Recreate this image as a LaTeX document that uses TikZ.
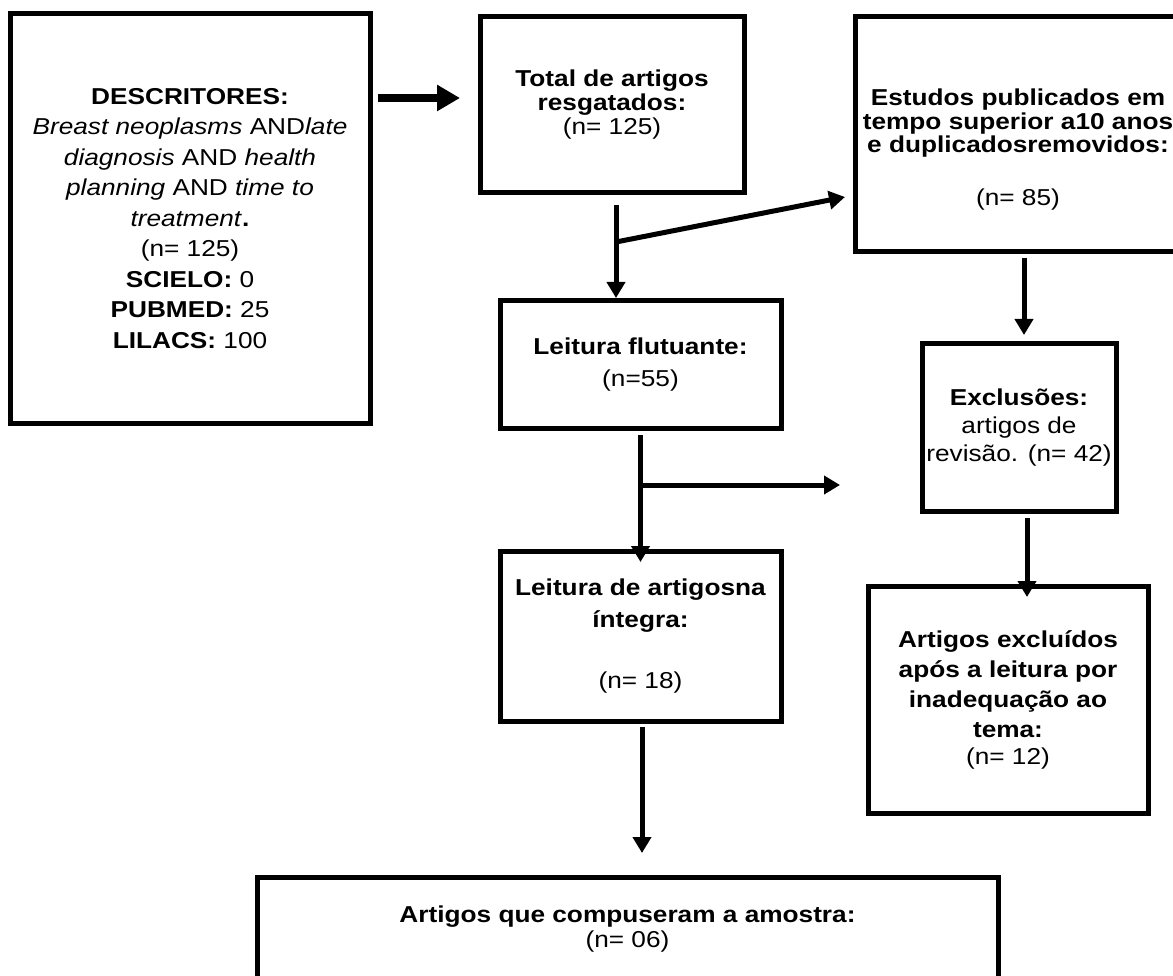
\documentclass[tikz,border=0pt]{standalone}
\usepackage{fontspec}
\setmainfont{Liberation Sans}[FakeStretch=1.14]
\usetikzlibrary{arrows.meta,calc}
\newcommand\boxfont[1]{\fontsize{23}{#1}\selectfont}
\begin{document}
\begin{tikzpicture}[x=1pt,y=-1pt,
    box/.style={draw,line width=5pt,align=center,inner sep=0pt,outer sep=0pt},
    arr/.style={line width=5pt,-{Triangle[length=16pt,width=18pt]}},
    bigarr/.style={line width=8pt,-{Triangle[length=23pt,width=25pt]}}]
    \useasboundingbox (0,0) rectangle (1173,976);
    \clip (0,0) rectangle (1173,976);
    % boxes
    \node[box,minimum width=360pt,minimum height=409pt,font=\boxfont{30.5}] (desc) at (190,218.5)
        {\textbf{DESCRITORES:}\\ \textit{Breast neoplasms} AND\textit{late}\\ \textit{diagnosis} AND \textit{health}\\
         \textit{planning} AND \textit{time to}\\ \textit{treatment}\textbf{.}\\ (n= 125)\\
         \textbf{SCIELO:} 0\\ \textbf{PUBMED:} 25\\ \textbf{LILACS:} 100};
    \node[box,minimum width=264pt,minimum height=176pt,font=\boxfont{24}] (total) at (612,105)
        {\textbf{Total de artigos}\\ \textbf{resgatados:}\\ (n= 125)};
    \node[box,minimum width=326pt,minimum height=235pt] (estudos) at (1018,134.5) {};
    \node[align=center,font=\boxfont{23.5}] (estudos-txt) at (1018,150)
        {\textbf{Estudos publicados em}\\ \textbf{tempo superior a10 anos}\\ \textbf{e duplicadosremovidos:}\\[29.5pt] (n= 85)};
    \node[box,minimum width=281pt,minimum height=127pt,font=\boxfont{32}] (flut) at (640.5,364.5)
        {\textbf{Leitura flutuante:}\\ (n=55)};
    \node[box,minimum width=194pt,minimum height=167pt,font=\boxfont{28}] (excl) at (1019,427.5)
        {\textbf{Exclusões:}\\ artigos de\\ revisão. (n= 42)};
    \node[box,minimum width=281pt,minimum height=170pt,font=\boxfont{32}] (integra) at (640.5,636)
        {\textbf{Leitura de artigosna}\\ \textbf{íntegra:}\\[29pt] (n= 18)};
    \node[box,minimum width=280pt,minimum height=227pt,font=\boxfont{30}] (artex) at (1008,699.5)
        {\textbf{Artigos excluídos}\\ \textbf{após a leitura por}\\ \textbf{inadequação ao}\\ \textbf{tema:}\\[-3pt] (n= 12)};
    \node[box,minimum width=741pt,minimum height=105pt,font=\boxfont{25}] (amostra) at (627.5,929.5)
        {\textbf{Artigos que compuseram a amostra:}\\ (n= 06)};
    % arrows
    \draw[bigarr] ([shift={(8,84)}]desc.north east) -- ([shift={(-20,81)}]total.north west);
    \draw[arr] ($(total.south)+(4,12)$) -- ($(total.south |- flut.north)+(4,-3)$);
    \coordinate (jb) at ($(total.south)+(4,49)$);
    \draw[arr] (jb) -- ($(estudos.north west)+(-10,180)$);
    \draw[arr] ($(estudos.south)+(6,6)$) -- ($(estudos.south |- excl.north)+(6,-9)$);
    \draw[arr] ($(flut.south)+(0,7)$) -- ($(integra.north)+(0,11)$);
    \coordinate (jd) at ($(flut.south)+(0,57)$);
    \draw[arr] (jd) -- ($(jd -| excl.west)+(-82,0)$);
    \draw[arr] ($(excl.south)+(8,7)$) -- ($(excl.south |- artex.north)+(8,11)$);
    \draw[arr] ($(integra.south)+(1.5,6)$) -- ($(integra.south |- amostra.north)+(1.5,-24)$);
\end{tikzpicture}
\end{document}
